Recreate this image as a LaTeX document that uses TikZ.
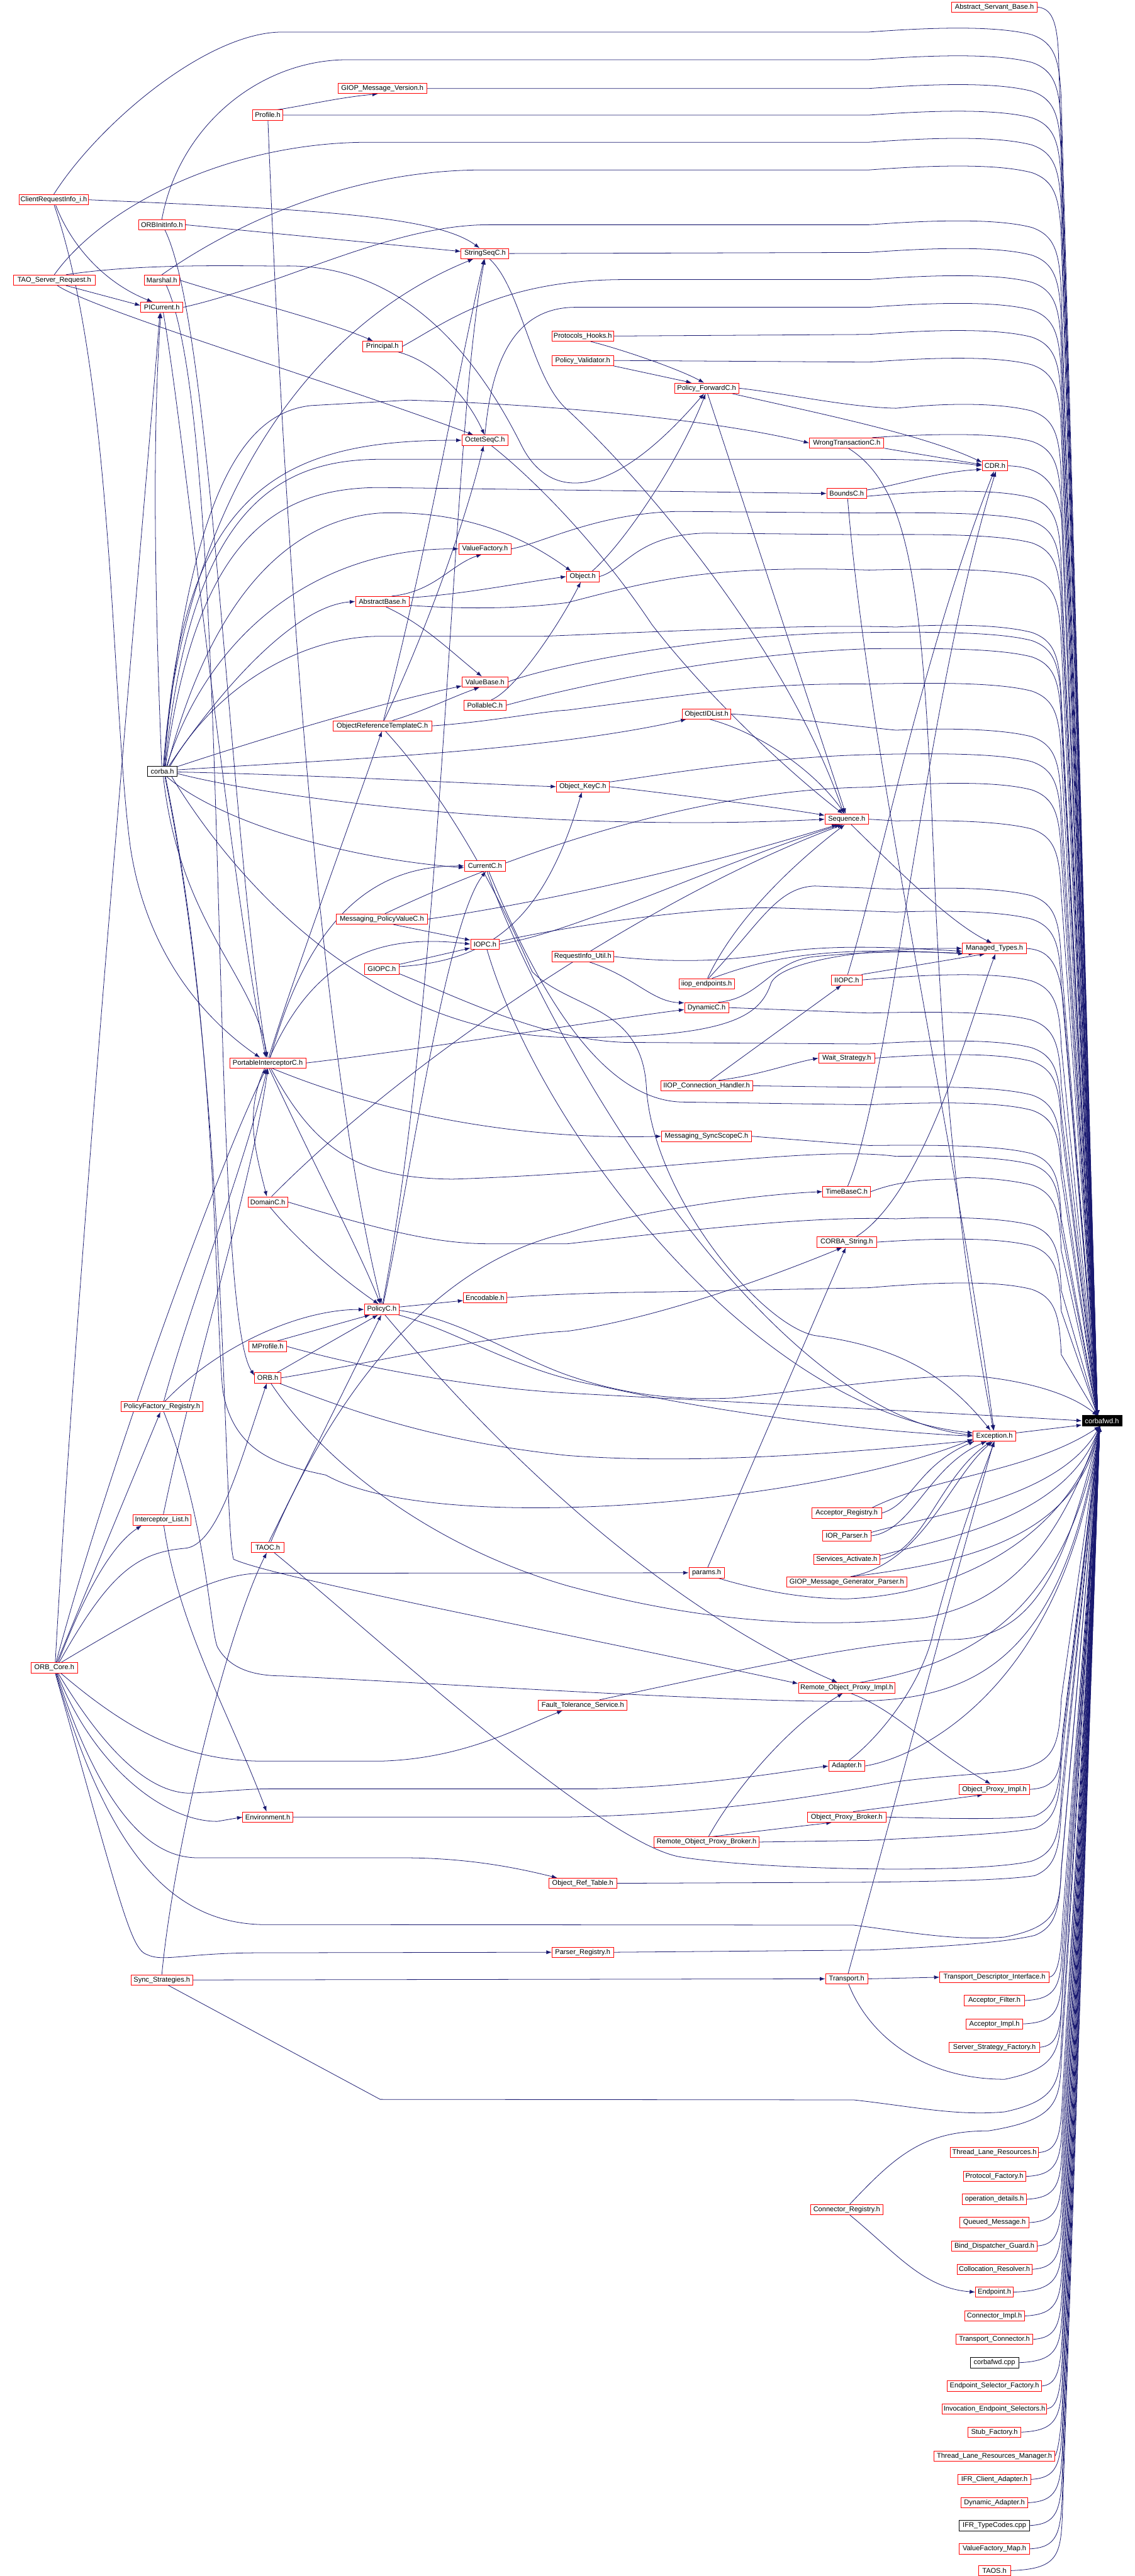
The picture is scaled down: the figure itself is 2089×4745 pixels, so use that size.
\documentclass[tikz,border=0pt]{standalone}
\usepackage{fontspec}
\setmainfont{Liberation Sans}
\usetikzlibrary{arrows.meta,calc}
\definecolor{edgec}{HTML}{191970}
\pgfdeclarelayer{edges}
\pgfsetlayers{edges,main}
\tikzset{
 box/.style={draw=red, fill=white, line width=0.5pt, inner xsep=1pt, inner ysep=0pt, minimum height=9.5pt, font=\fontsize{6.4}{7}\selectfont, anchor=center},
 bbox/.style={box, draw=black},
 e/.style={draw=edgec, line width=0.45pt, -{Latex[length=5pt,width=3.6pt]}},
}
\newcommand\Nd[6][box]{\node[#1, minimum width=#5pt] (#2) at (#3,#4) {#6};}
\newcommand\BUpE[1]{.. controls (1942,#1+15) and (1951,#1+45) .. (1954,#1+120) -- (fwdT)}
\newcommand\BUp[1]{.. controls (1760,#1-12) and (1850,#1-8) .. (1900,#1+5) \BUpE{#1+5}}
\newcommand\BDnE[1]{.. controls (1942,#1-15) and (1951,#1-45) .. (1954,#1-120) -- (fwdB)}
\newcommand\CDn[1]{.. controls (1945,#1-3) and (1953,#1-25) .. (1956,#1-100) -- (fwdB)}
\begin{document}
\begin{tikzpicture}[x=0.5pt,y=-0.5pt]
\begin{pgfonlayer}{edges}
\fill[white] (0,0) rectangle (2089,4745);
\end{pgfonlayer}
\useasboundingbox (0,0) rectangle (2089,4745);
% ---------- nodes
\Nd{asb}{1831}{13}{79}{Abstract\_Servant\_Base.h}
\Nd{gmv}{704}{163}{81.5}{GIOP\_Message\_Version.h}
\Nd{profile}{493}{212}{28}{Profile.h}
\Nd{cri}{99}{368}{64}{ClientRequestInfo\_i.h}
\Nd{oii}{298}{414}{43}{ORBInitInfo.h}
\Nd{strseq}{893}{467}{44}{StringSeqC.h}
\Nd{tsr}{100}{516}{75}{TAO\_Server\_Request.h}
\Nd{marshal}{298}{516}{32.5}{Marshal.h}
\Nd{pic}{298}{566}{39}{PICurrent.h}
\Nd{ph}{1073}{619}{56.5}{Protocols\_Hooks.h}
\Nd{principal}{704}{638}{36.5}{Principal.h}
\Nd{pv}{1073}{664}{56.5}{Policy\_Validator.h}
\Nd{pf}{1301}{715}{59}{Policy\_ForwardC.h}
\Nd{octseq}{893}{811}{42.5}{OctetSeqC.h}
\Nd{wt}{1559}{816}{68.5}{WrongTransactionC.h}
\Nd{cdr}{1832}{858}{23.5}{CDR.h}
\Nd{bounds}{1559}{909}{36.5}{BoundsC.h}
\Nd{vf}{893}{1011}{48}{ValueFactory.h}
\Nd{obj}{1073}{1062}{30}{Object.h}
\Nd{ab}{704}{1108}{49.5}{AbstractBase.h}
\Nd{vb}{893}{1256}{42}{ValueBase.h}
\Nd{poll}{893}{1299}{38.5}{PollableC.h}
\Nd{oidl}{1301}{1315}{44.5}{ObjectIDList.h}
\Nd{ortc}{704}{1337}{91}{ObjectReferenceTemplateC.h}
\Nd[bbox]{corba}{299}{1421}{27.5}{corba.h}
\Nd{okey}{1073}{1449}{48.5}{Object\_KeyC.h}
\Nd{seq}{1559}{1509}{40}{Sequence.h}
\Nd{current}{893}{1595}{38}{CurrentC.h}
\Nd{mpv}{703}{1693}{84}{Messaging\_PolicyValueC.h}
\Nd{iopc}{893}{1739}{26.5}{IOPC.h}
\Nd{mt}{1831}{1747}{59}{Managed\_Types.h}
\Nd{riu}{1073}{1762}{56.5}{RequestInfo\_Util.h}
\Nd{giopc}{703}{1785}{32}{GIOPC.h}
\Nd{iiopc}{1559}{1805}{28.5}{IIOPC.h}
\Nd{iiope}{1301}{1812}{51}{iiop\_endpoints.h}
\Nd{dyn}{1301}{1856}{40.5}{DynamicC.h}
\Nd{ws}{1559}{1949}{51.5}{Wait\_Strategy.h}
\Nd{pi}{493}{1958}{70}{PortableInterceptorC.h}
\Nd{iiopch}{1301}{2000}{84.5}{IIOP\_Connection\_Handler.h}
\Nd{mss}{1301}{2093}{83}{Messaging\_SyncScopeC.h}
\Nd{tb}{1559}{2195}{44}{TimeBaseC.h}
\Nd{domain}{493}{2214}{36.5}{DomainC.h}
\Nd{cstr}{1559}{2288}{55}{CORBA\_String.h}
\Nd{enc}{893}{2390}{39.5}{Encodable.h}
\Nd{policy}{703}{2412}{32}{PolicyC.h}
\Nd{mprofile}{493}{2480}{34.5}{MProfile.h}
\Nd{orb}{493}{2538}{24}{ORB.h}
\Nd{pfr}{298}{2591}{75}{PolicyFactory\_Registry.h}
\node[box, draw=black, fill=black, text=white, minimum width=36.5pt] (fwd) at (2029,2617) {corbafwd.h};
\Nd{exc}{1831}{2645}{39}{Exception.h}
\Nd{areg}{1559}{2787}{64.5}{Acceptor\_Registry.h}
\Nd{il}{298}{2800}{53}{Interceptor\_List.h}
\Nd{iorp}{1559}{2829}{44.5}{IOR\_Parser.h}
\Nd{taoc}{493}{2850}{30}{TAOC.h}
\Nd{sa}{1559}{2872}{61}{Services\_Activate.h}
\Nd{params}{1301}{2897}{32.5}{params.h}
\Nd{gmgp}{1559}{2914}{111}{GIOP\_Message\_Generator\_Parser.h}
\Nd{orbcore}{100}{3072}{42.5}{ORB\_Core.h}
\Nd{ropi}{1559}{3109}{89}{Remote\_Object\_Proxy\_Impl.h}
\Nd{fts}{1073}{3141}{81.5}{Fault\_Tolerance\_Service.h}
\Nd{adapter}{1559}{3253}{33}{Adapter.h}
\Nd{opi}{1831}{3296}{64.5}{Object\_Proxy\_Impl.h}
\Nd{env}{493}{3347}{46}{Environment.h}
\Nd{opb}{1559}{3347}{72.5}{Object\_Proxy\_Broker.h}
\Nd{ropb}{1301}{3393}{96.5}{Remote\_Object\_Proxy\_Broker.h}
\Nd{ortab}{1073}{3469}{62.5}{Object\_Ref\_Table.h}
\Nd{preg}{1073}{3596}{56.5}{Parser\_Registry.h}
\Nd{tdi}{1831}{3642}{100.5}{Transport\_Descriptor\_Interface.h}
\Nd{transport}{1559}{3645}{39}{Transport.h}
\Nd{ss}{298}{3647}{57}{Sync\_Strategies.h}
\Nd{af}{1831}{3685}{55.5}{Acceptor\_Filter.h}
\Nd{ai}{1831}{3728}{52.5}{Acceptor\_Impl.h}
\Nd{ssf}{1831}{3771}{83.5}{Server\_Strategy\_Factory.h}
\Nd{tlr}{1831}{3965}{81}{Thread\_Lane\_Resources.h}
\Nd{pfac}{1831}{4009}{57.5}{Protocol\_Factory.h}
\Nd{od}{1831}{4051}{59}{operation\_details.h}
\Nd{creg}{1559}{4070}{67}{Connector\_Registry.h}
\Nd{qm}{1831}{4094}{63.5}{Queued\_Message.h}
\Nd{bdg}{1831}{4137}{79}{Bind\_Dispatcher\_Guard.h}
\Nd{cres}{1831}{4180}{69}{Collocation\_Resolver.h}
\Nd{endpoint}{1831}{4222}{35}{Endpoint.h}
\Nd{cimpl}{1831}{4266}{55}{Connector\_Impl.h}
\Nd{tcon}{1831}{4309}{71}{Transport\_Connector.h}
\Nd[bbox]{cpp}{1831}{4352}{44.5}{corbafwd.cpp}
\Nd{esf}{1831}{4395}{87}{Endpoint\_Selector\_Factory.h}
\Nd{ies}{1831}{4437}{96.5}{Invocation\_Endpoint\_Selectors.h}
\Nd{stubf}{1831}{4480}{49}{Stub\_Factory.h}
\Nd{tlrm}{1831}{4524}{111}{Thread\_Lane\_Resources\_Manager.h}
\Nd{ifrca}{1831}{4567}{67}{IFR\_Client\_Adapter.h}
\Nd{dynad}{1831}{4610}{61.5}{Dynamic\_Adapter.h}
\Nd[bbox]{ifrtc}{1831}{4652}{65}{IFR\_TypeCodes.cpp}
\Nd{vfm}{1831}{4695}{64.5}{ValueFactory\_Map.h}
\Nd{taos}{1831}{4735}{29.5}{TAOS.h}
\coordinate (fwdT) at (2021,2608);
\coordinate (fwdB) at (2025,2627);
% ---------- edges
\begin{pgfonlayer}{edges}
% top tracks to corbafwd.h
\draw[e] (cri.north) .. controls (180,230) and (380,59) .. (520,59) -- (1600,59) \BUp{59};
\draw[e] (oii.north) .. controls (330,230) and (480,110) .. (640,110) -- (1600,110) \BUp{110};
\draw[e] (gmv.east) -- (1600,163) \BUp{163};
\draw[e] (profile.east) -- (1600,212) \BUp{212};
\draw[e] (profile.30) .. controls (560,195) and (620,180) .. (gmv.-130);
\draw[e] (tsr.north) .. controls (190,380) and (420,262) .. (680,262) -- (1600,262) \BUp{262};
\draw[e] (marshal.north) .. controls (450,400) and (660,313) .. (890,313) -- (1600,313) \BUp{313};
\draw[e] (pic.east) .. controls (520,525) and (720,414) .. (900,414) -- (1600,414) \BUp{414};
\draw[e] (strseq.east) -- (1600,465) \BUp{465};
\draw[e] (principal.east) .. controls (820,595) and (920,515) .. (1150,515) -- (1600,515) \BUp{515};
\draw[e] (octseq.north) .. controls (905,660) and (950,566) .. (1060,566) -- (1600,566) \BUp{566};
\draw[e] (ph.east) -- (1600,616) \BUp{616};
\draw[e] (pv.east) -- (1600,667) \BUp{667};
\draw[e] (pf.east) .. controls (1450,725) and (1560,750) .. (1650,752) \BUp{752};
% top region
\draw[e] (cri.east) .. controls (550,385) and (800,395) .. (strseq.135);
\draw[e] (oii.east) -- (strseq.175);
\draw[e] (cri.-70) .. controls (130,450) and (190,520) .. (pic.150);
\draw[e] (tsr.-25) -- (pic.175);
\draw[e] (tsr.-60) .. controls (170,570) and (600,700) .. (octseq.155);
\draw[e] (marshal.east) .. controls (420,545) and (600,590) .. (principal.150);
\draw[e] (principal.-20) .. controls (800,665) and (860,730) .. (octseq.95);
\draw[e] (tsr.25) .. controls (260,485) and (430,490) .. (520,490) .. controls (720,485) and (860,620) .. (960,820) .. controls (1010,920) and (1120,930) .. (pf.-115);
\draw[e] (ph.-35) .. controls (1150,645) and (1250,680) .. (pf.115);
\draw[e] (pv.-10) -- (pf.160);
\draw[e] (pf.-12) .. controls (1500,760) and (1700,800) .. (cdr.165);
\draw[e] (pf.-80) -- (seq.100);
\draw[e] (wt.-8) -- (cdr.175);
\draw[e] (wt.12) \BUp{808};
\draw[e] (wt.-70) .. controls (1680,900) and (1700,1100) .. (1720,1600) .. controls (1740,2100) and (1785,2400) .. (exc.100);
\draw[e] (bounds.10) .. controls (1650,895) and (1720,870) .. (cdr.-165);
\draw[e] (bounds.-80) .. controls (1600,1400) and (1760,2100) .. (exc.95);
\draw[e] (bounds.-8) -- (1620,912) \BUp{912};
\draw[e] (cdr.east) .. controls (1910,860) and (1948,880) .. (1955,960) -- (fwdT);
\draw[e] (asb.east) .. controls (1935,16) and (1946,35) .. (1949,100) -- (fwdT);
% corba.h and friends
\draw[e] (corba.80) .. controls (330,1000) and (520,620) .. (strseq.-155);
\draw[e] (corba.97) .. controls (285,1100) and (280,800) .. (pic.-100);
\draw[e] (orbcore.80) .. controls (150,2200) and (270,900) .. (pic.-110);
\draw[e] (cri.-85) .. controls (210,700) and (205,1300) .. (240,1560) .. controls (270,1760) and (380,1880) .. (pi.145);
\draw[e] (orbcore.72) .. controls (200,2700) and (400,2150) .. (pi.-105);
\draw[e] (pfr.70) .. controls (350,2400) and (450,2150) .. (pi.-95);
\draw[e] (il.75) .. controls (360,2500) and (460,2200) .. (pi.-88);
\draw[e] (pic.-75) .. controls (340,800) and (420,1600) .. (pi.110);
\draw[e] (oii.-60) .. controls (390,600) and (420,1500) .. (pi.100);
\draw[e] (marshal.-50) .. controls (430,800) and (380,2400) .. (orb.170);
\draw[e] (corba.-80) .. controls (330,1700) and (470,1800) .. (pi.95);
\draw[e] (pi.-120) .. controls (450,2050) and (470,2120) .. (domain.100);
\draw[e] (pi.70) .. controls (580,1760) and (700,1720) .. (iopc.west);
\draw[e] (pi.65) .. controls (580,1650) and (720,1595) .. (current.west);
\draw[e] (corba.-50) .. controls (400,1510) and (620,1580) .. (current.185);
\draw[e] (pi.80) .. controls (540,1800) and (650,1500) .. (ortc.-95);
\draw[e] (pi.east) .. controls (800,1930) and (1100,1880) .. (dyn.185);
\draw[e] (pi.-50) .. controls (700,2050) and (950,2100) .. (mss.west);
\draw[e] (pi.-75) .. controls (580,2150) and (660,2300) .. (policy.105);
\draw[e] (pi.-60) .. controls (580,2120) and (660,2170) .. (833,2172) .. controls (1200,2160) and (1500,2110) .. (1650,2130) \BUp{2140};
\draw[e] (domain.east) .. controls (700,2265) and (800,2291) .. (900,2291) -- (1045,2291) .. controls (1300,2262) and (1500,2240) .. (1650,2245) \BUp{2252};
\draw[e] (domain.55) .. controls (750,1950) and (1200,1650) .. (seq.-125);
\draw[e] (domain.-65) .. controls (560,2300) and (650,2370) .. (policy.120);
\draw[e] (profile.-88) .. controls (520,900) and (580,1900) .. (policy.93);
\draw[e] (mpv.-25) -- (iopc.165);
\draw[e] (giopc.15) -- (iopc.195);
\draw[e] (mpv.east) .. controls (950,1670) and (1250,1610) .. (seq.-150);
\draw[e] (mpv.60) .. controls (800,1640) and (1200,1455) .. (1600,1450) \BUp{1450};
\draw[e] (giopc.8) .. controls (900,1770) and (1000,1700) .. (okey.-100);
\draw[e] (giopc.-15) .. controls (850,1840) and (1000,1915) .. (1150,1920) -- (1600,1923) \BUp{1925};
\draw[e] (iopc.east) .. controls (1050,1720) and (1300,1600) .. (seq.-140);
\draw[e] (iopc.10) .. controls (1000,1715) and (1250,1672) .. (1420,1672) -- (1650,1680) \BUp{1688};
\draw[e] (iopc.-70) .. controls (1000,2100) and (1400,2600) .. (exc.172);
\draw[e] (current.-70) .. controls (1000,1900) and (1400,2600) .. (exc.178);
\draw[e] (current.-55) .. controls (980,1800) and (1100,2030) .. (1260,2030) -- (1600,2035) \BUp{2040};
\draw[e] (corba.-8) .. controls (500,1470) and (1000,1535) .. (seq.west);
\draw[e] (corba.-2) .. controls (600,1428) and (900,1445) .. (okey.west);
\draw[e] (corba.6) .. controls (600,1400) and (1000,1385) .. (oidl.-165);
\draw[e] (corba.18) .. controls (500,1355) and (700,1295) .. (vb.-170);
\draw[e] (corba.40) .. controls (420,1250) and (550,1115) .. (ab.west);
\draw[e] (corba.52) .. controls (390,1150) and (600,1010) .. (vf.west);
\draw[e] (corba.68) .. controls (330,900) and (520,810) .. (octseq.west);
\draw[e] (corba.64) .. controls (350,950) and (500,846) .. (700,846) -- (1600,846) .. controls (1700,846) and (1750,850) .. (cdr.west);
\draw[e] (corba.60) .. controls (360,1000) and (500,898) .. (700,898) -- (bounds.west);
\draw[e] (corba.48) .. controls (400,1060) and (560,955) .. (700,945) .. controls (850,940) and (960,985) .. (obj.155);
\draw[e] (corba.75) .. controls (350,900) and (450,760) .. (573,747) -- (753,737) .. controls (1000,745) and (1300,770) .. (wt.west);
\draw[e] (corba.-30) .. controls (450,1650) and (700,1905) .. (1045,1911) .. controls (1350,1912) and (1400,1870) .. (1420,1810) .. controls (1440,1770) and (1600,1745) .. (mt.west);
\draw[e] (corba.-60) .. controls (400,1900) and (395,2400) .. (410,2560) .. controls (430,2680) and (520,2700) .. (600,2717) .. controls (800,2830) and (1500,2770) .. (exc.-172);
\draw[e] (corba.-65) .. controls (420,2000) and (410,2800) .. (430,2872) .. controls (500,2905) and (1000,3000) .. (ropi.175);
\draw[e] (corba.35) .. controls (400,1260) and (560,1172) .. (700,1172) -- (1000,1172) .. controls (1300,1160) and (1500,1150) .. (1650,1155) \BUp{1160};
\draw[e] (ab.30) .. controls (800,1090) and (830,1040) .. (vf.-120);
\draw[e] (ab.-55) .. controls (780,1150) and (830,1200) .. (vb.120);
\draw[e] (ab.8) .. controls (850,1095) and (950,1075) .. (obj.west);
\draw[e] (ab.-8) .. controls (850,1122) and (950,1122) .. (1045,1110) .. controls (1200,1070) and (1300,1040) .. (1600,1050) \BUp{1058};
\draw[e] (vf.east) .. controls (1000,1000) and (1100,945) .. (1250,942) -- (1600,945) \BUp{955};
\draw[e] (obj.east) .. controls (1150,1050) and (1170,985) .. (1300,982) -- (1600,985) \BUp{995};
\draw[e] (obj.30) .. controls (1150,1000) and (1250,850) .. (pf.-100);
\draw[e] (vb.east) .. controls (1000,1230) and (1300,1165) .. (1600,1165) \BUp{1175};
\draw[e] (poll.east) .. controls (1000,1280) and (1300,1205) .. (1600,1195) \BUp{1205};
\draw[e] (poll.40) .. controls (950,1270) and (1030,1150) .. (obj.-110);
\draw[e] (ortc.28) .. controls (780,1310) and (830,1285) .. (vb.-135);
\draw[e] (ortc.78) .. controls (790,1000) and (840,700) .. (strseq.-100);
\draw[e] (ortc.72) .. controls (790,1150) and (860,950) .. (octseq.-105);
\draw[e] (ortc.east) .. controls (900,1330) and (1000,1310) .. (1045,1308) .. controls (1300,1275) and (1400,1258) .. (1600,1260) \BUp{1268};
\draw[e] (ortc.-60) .. controls (850,1500) and (940,1700) .. (980,1790) .. controls (1050,1860) and (1180,1850) .. (1190,2000) .. controls (1200,2200) and (1400,2440) .. (1500,2460) .. controls (1650,2480) and (1740,2530) .. (exc.125);
\draw[e] (okey.east) .. controls (1300,1470) and (1450,1490) .. (seq.170);
\draw[e] (okey.10) .. controls (1200,1430) and (1400,1395) .. (1600,1390) \BUp{1398};
\draw[e] (oidl.-60) .. controls (1400,1350) and (1500,1420) .. (seq.110);
\draw[e] (oidl.east) .. controls (1450,1322) and (1550,1335) .. (1650,1345) \BUp{1352};
\draw[e] (seq.east) -- (1650,1512) \BUp{1522};
\draw[e] (seq.-50) .. controls (1650,1600) and (1750,1700) .. (mt.115);
\draw[e] (strseq.-50) .. controls (960,530) and (980,700) .. (1045,755) .. controls (1200,900) and (1450,1200) .. (seq.118);
\draw[e] (octseq.-40) .. controls (980,880) and (1100,1000) .. (1200,1150) .. controls (1300,1280) and (1450,1420) .. (seq.125);
\draw[e] (mt.east) .. controls (1930,1750) and (1950,1770) .. (1958,1850) -- (fwdT);
\draw[e] (riu.east) .. controls (1300,1780) and (1400,1760) .. (1450,1752) .. controls (1550,1740) and (1650,1745) .. (mt.185);
\draw[e] (riu.-40) .. controls (1170,1800) and (1200,1845) .. (dyn.168);
\draw[e] (iiope.45) .. controls (1400,1770) and (1500,1740) .. (mt.190);
\draw[e] (iiope.80) .. controls (1350,1700) and (1450,1600) .. (seq.-110);
\draw[e] (iiope.70) .. controls (1400,1700) and (1430,1635) .. (1500,1632) -- (1650,1638) \BUp{1645};
\draw[e] (dyn.25) .. controls (1400,1840) and (1420,1770) .. (1500,1762) .. controls (1600,1752) and (1700,1752) .. (mt.195);
\draw[e] (dyn.east) -- (1600,1866) \BUp{1874};
\draw[e] (iiopc.20) -- (mt.-150);
\draw[e] (iiopc.east) \BUp{1802};
\draw[e] (iiopc.80) .. controls (1620,1600) and (1700,1200) .. (cdr.-100);
\draw[e] (tb.80) .. controls (1640,2000) and (1700,1300) .. (cdr.-80);
\draw[e] (iiopch.55) -- (iiopc.-135);
\draw[e] (iiopch.25) .. controls (1400,1980) and (1450,1960) .. (ws.west);
\draw[e] (iiopch.east) -- (1600,2003) \BUp{2012};
\draw[e] (ws.east) \BUp{1950};
\draw[e] (mss.east) -- (1600,2110) \BUp{2120};
\draw[e] (tb.east) .. controls (1650,2177) and (1700,2172) .. (1760,2172) \BUp{2178};
\draw[e] (cstr.30) .. controls (1700,2200) and (1780,1900) .. (mt.-80);
\draw[e] (cstr.east) \BUp{2290};
\draw[e] (taoc.60) .. controls (600,2600) and (780,2330) .. (1045,2271) .. controls (1200,2225) and (1400,2200) .. (tb.west);
\draw[e] (taoc.78) -- (policy.-95);
\draw[e] (taoc.-40) .. controls (700,3020) and (1100,3390) .. (1250,3420) .. controls (1400,3445) and (1800,3452) .. (1900,3428) \BDnE{3428};
\draw[e] (policy.8) -- (enc.188);
\draw[e] (enc.east) .. controls (1000,2385) and (1100,2381) .. (1200,2380) -- (1600,2372) \BUp{2370};
\draw[e] (policy.-3) .. controls (850,2430) and (950,2500) .. (1045,2533) .. controls (1150,2570) and (1250,2580) .. (1350,2575) .. controls (1500,2560) and (1700,2530) .. (1800,2535) .. controls (1900,2545) and (1975,2570) .. (fwdT);
\draw[e] (policy.-18) .. controls (850,2455) and (950,2525) .. (1100,2552) .. controls (1400,2620) and (1700,2642) .. (exc.west);
\draw[e] (policy.-60) .. controls (900,2650) and (1200,2950) .. (ropi.150);
\draw[e] (policy.75) .. controls (750,2200) and (820,1700) .. (current.-80);
\draw[e] (policy.82) .. controls (820,1800) and (830,800) .. (strseq.-92);
\draw[e] (mprofile.30) -- (policy.-155);
\draw[e] (mprofile.east) .. controls (700,2528) and (900,2558) .. (1045,2566) .. controls (1300,2580) and (1700,2600) .. (fwd.west);
\draw[e] (orb.30) -- (policy.-125);
\draw[e] (orb.east) .. controls (700,2508) and (900,2460) .. (1045,2452) .. controls (1200,2430) and (1400,2360) .. (cstr.-130);
\draw[e] (orb.-25) .. controls (650,2600) and (800,2655) .. (1045,2681) .. controls (1300,2700) and (1600,2672) .. (exc.-168);
\draw[e] (orb.-60) .. controls (600,2700) and (800,2850) .. (1045,2921) .. controls (1300,2990) and (1500,3000) .. (1700,2980) .. controls (1850,2955) and (1950,2850) .. (fwdB);
\draw[e] (pfr.60) .. controls (400,2480) and (550,2412) .. (policy.west);
\draw[e] (pfr.-70) .. controls (380,2800) and (385,2990) .. (400,3033) .. controls (420,3070) and (460,3087) .. (520,3087) .. controls (800,3100) and (1400,3140) .. (1600,3133) .. controls (1800,3125) and (1960,3050) .. (fwdB);
\draw[e] (il.-70) .. controls (330,3000) and (420,3150) .. (env.102);
% ORB_Core.h
\draw[e] (orbcore.65) -- (pfr.-105);
\draw[e] (orbcore.55) .. controls (150,2950) and (200,2850) .. (il.-165);
\draw[e] (orbcore.48) .. controls (200,2900) and (250,2860) .. (340,2852) .. controls (400,2848) and (440,2700) .. (orb.-100);
\draw[e] (orbcore.38) .. controls (300,2950) and (400,2898) .. (480,2898) -- (params.west);
\draw[e] (orbcore.-40) .. controls (250,3200) and (350,3242) .. (480,3244) -- (700,3244) .. controls (850,3240) and (950,3185) .. (fts.-165);
\draw[e] (orbcore.-55) .. controls (190,3220) and (270,3300) .. (347,3303) .. controls (420,3300) and (450,3295) .. (500,3295) -- (1100,3295) .. controls (1300,3290) and (1450,3262) .. (adapter.west);
\draw[e] (orbcore.-62) .. controls (170,3250) and (300,3355) .. (400,3355) -- (env.west);
\draw[e] (orbcore.-68) .. controls (200,3380) and (300,3420) .. (360,3422) -- (740,3422) .. controls (860,3422) and (950,3440) .. (ortab.168);
\draw[e] (orbcore.-74) .. controls (200,3420) and (320,3540) .. (480,3545) -- (1572,3546) .. controls (1680,3560) and (1760,3575) .. (1850,3568) \BDnE{3565};
\draw[e] (orbcore.-80) .. controls (220,3500) and (240,3590) .. (270,3600) .. controls (300,3615) and (340,3597) .. (480,3597) -- (preg.west);
\draw[e] (ss.north) .. controls (320,3400) and (420,3000) .. (taoc.-100);
\draw[e] (ss.east) -- (transport.west);
\draw[e] (ss.-40) -- (700,3867) -- (1572,3868) .. controls (1680,3880) and (1760,3898) .. (1850,3890) \BDnE{3885};
% lower right
\draw[e] (transport.east) -- (tdi.west);
\draw[e] (transport.75) .. controls (1640,3350) and (1760,2900) .. (exc.-95);
\draw[e] (transport.-70) .. controls (1600,3750) and (1700,3830) .. (1850,3830) \BDnE{3826};
\draw[e] (creg.-60) .. controls (1650,4150) and (1700,4215) .. (endpoint.west);
\draw[e] (creg.60) .. controls (1650,3970) and (1700,3925) .. (1820,3925) \BDnE{3920};
\draw[e] (areg.east) .. controls (1680,2770) and (1690,2700) .. (exc.-165);
\draw[e] (areg.12) .. controls (1720,2720) and (1900,2710) .. (fwdB);
\draw[e] (iorp.east) .. controls (1680,2820) and (1710,2700) .. (exc.-145);
\draw[e] (iorp.8) .. controls (1720,2790) and (1950,2760) .. (fwdB);
\draw[e] (sa.east) .. controls (1700,2860) and (1730,2720) .. (exc.-120);
\draw[e] (sa.6) .. controls (1730,2835) and (1960,2800) .. (fwdB);
\draw[e] (gmgp.55) .. controls (1700,2880) and (1750,2720) .. (exc.-105);
\draw[e] (gmgp.45) .. controls (1760,2880) and (1980,2840) .. (fwdB);
\draw[e] (params.78) -- (cstr.-100);
\draw[e] (params.-25) .. controls (1400,2930) and (1480,2945) .. (1560,2945) .. controls (1800,2935) and (1980,2800) .. (fwdB);
\draw[e] (exc.8) -- (fwd.192);
\draw[e] (ropi.-55) .. controls (1650,3150) and (1710,3220) .. (opi.125);
\draw[e] (ropi.22) .. controls (1750,3070) and (1960,3000) .. (fwdB);
\draw[e] (fts.18) .. controls (1300,3090) and (1600,3020) .. (1750,3020) .. controls (1900,3020) and (1960,2900) .. (fwdB);
\draw[e] (adapter.70) .. controls (1620,3200) and (1700,3100) .. (1720,3000) .. controls (1760,2850) and (1795,2750) .. (exc.-88);
\draw[e] (adapter.east) .. controls (1700,3235) and (1965,3100) .. (fwdB);
\draw[e] (env.east) -- (1045,3347) .. controls (1300,3342) and (1500,3310) .. (1650,3282) .. controls (1780,3265) and (1870,3268) .. (1905,3250) \BDnE{3250};
\draw[e] (opb.40) -- (opi.-155);
\draw[e] (opb.east) .. controls (1750,3350) and (1850,3352) .. (1905,3345) \BDnE{3345};
\draw[e] (ropb.45) -- (opb.-160);
\draw[e] (ropb.70) .. controls (1350,3300) and (1450,3180) .. (ropi.-125);
\draw[e] (ropb.east) -- (1600,3390) .. controls (1750,3382) and (1850,3378) .. (1905,3368) \BDnE{3368};
\draw[e] (ortab.east) -- (1600,3467) .. controls (1750,3465) and (1850,3463) .. (1905,3455) \BDnE{3455};
\draw[e] (preg.east) -- (1600,3592) .. controls (1750,3585) and (1850,3578) .. (1905,3565) \BDnE{3565};
% column of files right of the picture
\draw[e] (opi.east) \CDn{3296};
\draw[e] (tdi.east) \CDn{3642};
\draw[e] (af.east) \CDn{3685};
\draw[e] (ai.east) \CDn{3728};
\draw[e] (ssf.east) \CDn{3771};
\draw[e] (tlr.east) \CDn{3965};
\draw[e] (pfac.east) \CDn{4009};
\draw[e] (od.east) \CDn{4051};
\draw[e] (qm.east) \CDn{4094};
\draw[e] (bdg.east) \CDn{4137};
\draw[e] (cres.east) \CDn{4180};
\draw[e] (endpoint.east) \CDn{4222};
\draw[e] (cimpl.east) \CDn{4266};
\draw[e] (tcon.east) \CDn{4309};
\draw[e] (cpp.east) \CDn{4352};
\draw[e] (esf.east) \CDn{4395};
\draw[e] (ies.east) \CDn{4437};
\draw[e] (stubf.east) \CDn{4480};
\draw[e] (tlrm.east) \CDn{4524};
\draw[e] (ifrca.east) \CDn{4567};
\draw[e] (dynad.east) \CDn{4610};
\draw[e] (ifrtc.east) \CDn{4652};
\draw[e] (vfm.east) \CDn{4695};
\draw[e] (taos.east) \CDn{4735};
\end{pgfonlayer}
\end{tikzpicture}
\end{document}
